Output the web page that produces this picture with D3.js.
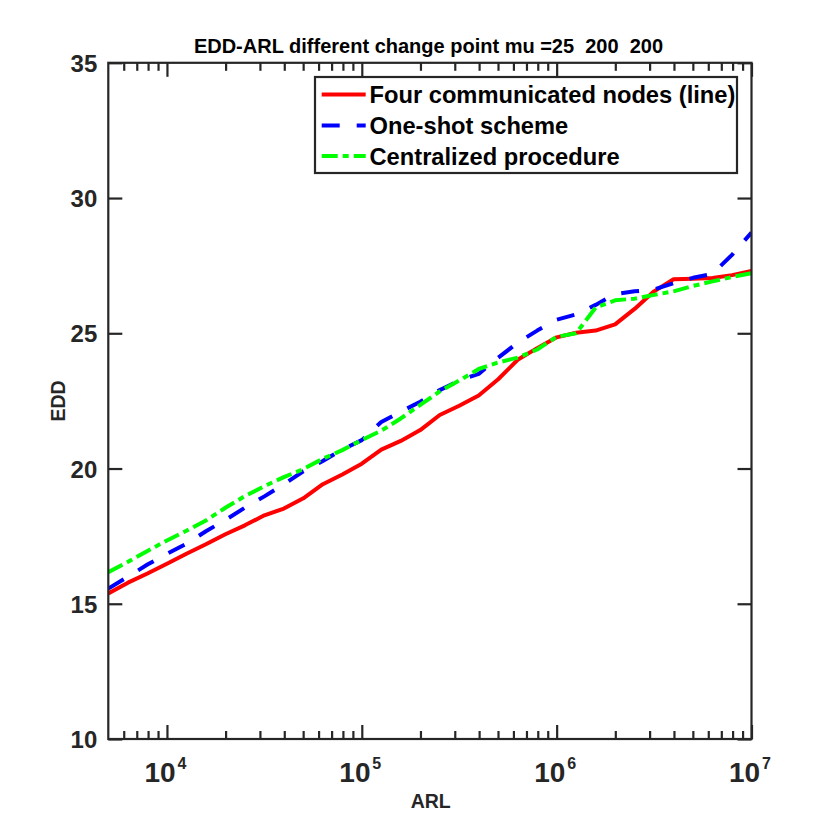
<!DOCTYPE html>
<html>
<head>
<meta charset="utf-8">
<script src="https://cdn.jsdelivr.net/npm/d3@7"></script>
<style>
  html, body { margin: 0; padding: 0; background: #fff; }
  svg { display: block; font-family: "Liberation Sans", Arial, Helvetica, sans-serif; font-weight: bold; }
  text { white-space: pre; }
</style>
</head>
<body>
<svg id="chart" width="830" height="830"></svg>
<script>
// ---- data ----
const arl = [5000, 6310, 7943, 10000, 12589, 15849, 19953, 25119, 31623, 39811,
  50119, 63096, 79433, 100000, 125893, 158489, 199526, 251189, 316228, 398107,
  501187, 630957, 794328, 1000000, 1258925, 1584893, 1995262, 2511886, 3162278,
  3981072, 5011872, 6309573, 7943282, 10000000];
const fourNodes = [15.38, 15.78, 16.12, 16.48, 16.85, 17.2, 17.57, 17.9, 18.27, 18.52,
  18.9, 19.42, 19.78, 20.18, 20.7, 21.02, 21.42, 21.98, 22.32, 22.7,
  23.3, 24.02, 24.45, 24.85, 25.02, 25.1, 25.33, 25.9, 26.55, 27.0,
  27.02, 27.04, 27.15, 27.3];
const oneShot = [15.56, 16.0, 16.45, 16.85, 17.22, 17.68, 18.1, 18.55, 18.97, 19.42,
  19.9, 20.28, 20.7, 21.05, 21.72, 22.1, 22.47, 22.9, 23.25, 23.5,
  24.1, 24.65, 25.1, 25.5, 25.7, 26.05, 26.45, 26.55, 26.62, 26.85,
  27.05, 27.2, 27.9, 28.72];
const centralized = [16.17, 16.55, 16.95, 17.34, 17.7, 18.08, 18.55, 18.98, 19.35, 19.68,
  19.98, 20.36, 20.68, 21.05, 21.4, 21.85, 22.35, 22.85, 23.25, 23.68,
  23.92, 24.1, 24.4, 24.87, 25.0, 25.95, 26.22, 26.28, 26.42, 26.55,
  26.75, 26.92, 27.08, 27.22];
const seriesNames = ["Four communicated nodes (line)", "One-shot scheme", "Centralized procedure"];
const xDomain = [5000, 1e7];
const yDomain = [10, 35];
const xMajorTicks = [1e4, 1e5, 1e6, 1e7];
const xTickExponents = ["4", "5", "6", "7"];
const yTicks = [10, 15, 20, 25, 30, 35];
const titleText = "EDD-ARL different change point mu =25  200  200";
const xLabel = "ARL";
const yLabel = "EDD";

// ---- layout ----
const L = 108.3, R = 751.5, T = 62.8, B = 739;
const axisColor = "#262626";
const svg = d3.select("#chart");

const x = d3.scaleLog().domain(xDomain).range([L, R]);
const y = d3.scaleLinear().domain(yDomain).range([B, T]);

// minor ticks
const xMinor = [];
for (let e = 3; e <= 6; e++) {
  for (let m = 2; m <= 9; m++) {
    const v = m * Math.pow(10, e);
    if (v > xDomain[0] && v < xDomain[1]) xMinor.push(v);
  }
}

function styleAxis(g) {
  g.select(".domain").remove();
  g.selectAll(".tick line").attr("stroke", axisColor).attr("stroke-width", 2.2);
}

// clip
svg.append("defs").append("clipPath").attr("id", "clip")
  .append("rect").attr("x", L).attr("y", T).attr("width", R - L).attr("height", B - T);

// data lines
const lineGen = vals => d3.line()
  .x((d, i) => x(arl[i]))
  .y(d => y(d))(vals);

const styles = [
  { vals: fourNodes, color: "#ff0000", dash: null },
  { vals: oneShot, color: "#0000ff", dash: "18,17" },
  { vals: centralized, color: "#00ff00", dash: "16,5,6,5" }
];

const plot = svg.append("g").attr("clip-path", "url(#clip)");
styles.forEach(s => {
  plot.append("path")
    .attr("d", lineGen(s.vals))
    .attr("fill", "none")
    .attr("stroke", s.color)
    .attr("stroke-width", 4)
    .attr("stroke-linejoin", "round")
    .attr("stroke-dasharray", s.dash);
});

// axes: bottom
svg.append("g").attr("transform", `translate(0,${B})`)
  .call(d3.axisBottom(x).tickValues(xMinor).tickSizeInner(-8).tickSizeOuter(0).tickFormat(() => ""))
  .call(styleAxis);
const xb = svg.append("g").attr("transform", `translate(0,${B})`)
  .call(d3.axisBottom(x).tickValues(xMajorTicks).tickSizeInner(-14).tickSizeOuter(0).tickFormat(() => ""))
  .call(styleAxis);
xb.selectAll(".tick").each(function(d, i) {
  const g = d3.select(this);
  g.select("text").remove();
  g.append("text")
    .attr("x", -23).attr("y", 43.3)
    .attr("fill", axisColor).attr("font-size", 28).attr("text-anchor", "start")
    .text("10");
  g.append("text")
    .attr("x", 10).attr("y", 30.3)
    .attr("fill", axisColor).attr("font-size", 16).attr("text-anchor", "start")
    .text(xTickExponents[i]);
});
// top
svg.append("g").attr("transform", `translate(0,${T})`)
  .call(d3.axisTop(x).tickValues(xMinor).tickSizeInner(-8).tickSizeOuter(0).tickFormat(() => ""))
  .call(styleAxis);
svg.append("g").attr("transform", `translate(0,${T})`)
  .call(d3.axisTop(x).tickValues(xMajorTicks).tickSizeInner(-14).tickSizeOuter(0).tickFormat(() => ""))
  .call(styleAxis);
// left
const yl = svg.append("g").attr("transform", `translate(${L},0)`)
  .call(d3.axisLeft(y).tickValues(yTicks).tickSizeInner(-14).tickSizeOuter(0).tickPadding(11).tickFormat(d3.format("d")))
  .call(styleAxis);
yl.selectAll(".tick text")
  .attr("fill", axisColor).attr("font-size", 24).attr("font-family", null)
  .attr("dy", "0.36em");
// right
svg.append("g").attr("transform", `translate(${R},0)`)
  .call(d3.axisRight(y).tickValues(yTicks).tickSizeInner(-14).tickSizeOuter(0).tickFormat(() => ""))
  .call(styleAxis);

// box
svg.append("rect")
  .attr("x", L).attr("y", T).attr("width", R - L).attr("height", B - T)
  .attr("fill", "none").attr("stroke", axisColor).attr("stroke-width", 2.2);

// title & labels
svg.append("text").attr("x", 428.5).attr("y", 52.7)
  .attr("text-anchor", "middle").attr("font-size", 20).attr("fill", "#000")
  .attr("xml:space", "preserve")
  .text(titleText);
svg.append("text").attr("x", 430.7).attr("y", 808.3)
  .attr("text-anchor", "middle").attr("font-size", 19.5).attr("fill", axisColor)
  .text(xLabel);
svg.append("text")
  .attr("transform", "translate(65,401) rotate(-90)")
  .attr("text-anchor", "middle").attr("font-size", 19.5).attr("fill", axisColor)
  .text(yLabel);

// legend
const lg = svg.append("g");
lg.append("rect").attr("x", 315).attr("y", 77).attr("width", 422).attr("height", 96)
  .attr("fill", "#fff").attr("stroke", axisColor).attr("stroke-width", 2.2);
const rowY = [94.5, 125.5, 156];
styles.forEach((s, i) => {
  lg.append("line")
    .attr("x1", 321.7).attr("x2", 365.7).attr("y1", rowY[i]).attr("y2", rowY[i])
    .attr("stroke", s.color).attr("stroke-width", 4)
    .attr("stroke-dasharray", s.dash);
  lg.append("text")
    .attr("x", 369.5).attr("y", rowY[i] + 8.5)
    .attr("font-size", 23.7).attr("fill", "#000")
    .text(seriesNames[i]);
});
</script>
</body>
</html>
